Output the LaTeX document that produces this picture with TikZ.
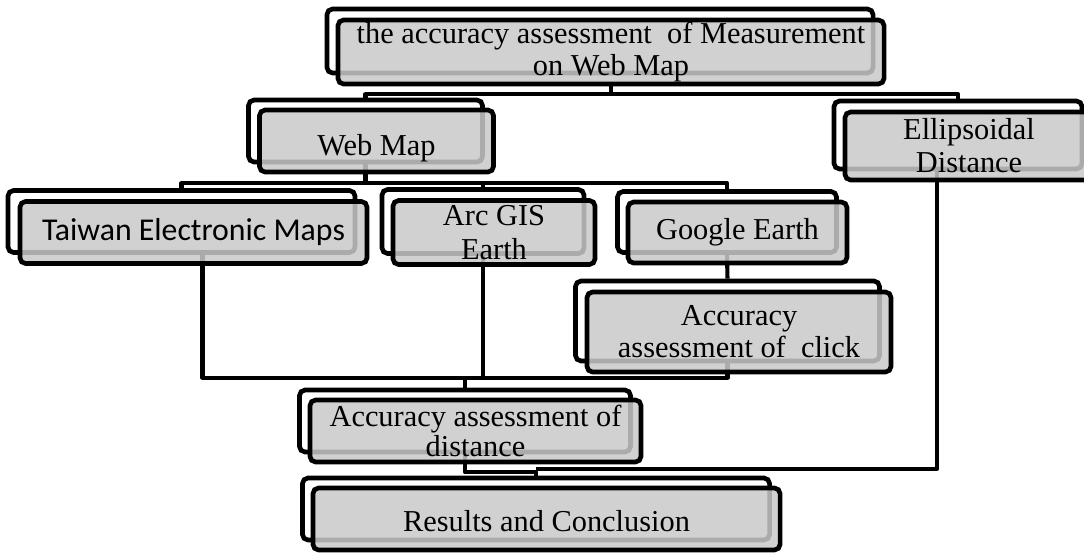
\documentclass[tikz,border=0pt]{standalone}
\usepackage{fontspec}
\setmainfont{Liberation Serif}
\newfontfamily\calibri{Carlito}
\usepackage{tikz}
\usetikzlibrary{positioning, calc}
\definecolor{boxgray}{gray}{0.79}
\pgfdeclarelayer{bg}
\pgfsetlayers{bg,main}
\tikzset{
    backbox/.style={draw, line width=3.3pt, rounded corners=4pt, inner sep=0pt},
    frontbox/.style={draw, line width=3.3pt, rounded corners=4pt, fill=boxgray, fill opacity=0.85, text opacity=1, align=center, inner sep=1pt, font=\fontsize{21.6}{21.6}\selectfont},
    link/.style={line width=2.9pt, line join=round}
}

\begin{document}
\begin{tikzpicture}[x=0.025cm, y=-0.025cm]
    \useasboundingbox (0,0) rectangle (1084,552);
    % Title
    \node[backbox, minimum width=13.65cm, minimum height=1.6cm] (topB) at (600,41) {};
    \node[frontbox, minimum width=13.65cm, minimum height=1.6cm] (top) at (611,52) {the accuracy assessment~ of Measurement\\[1pt]on Web Map};
    % Second level
    \node[backbox, minimum width=5.85cm, minimum height=1.55cm] (webB) at (365.5,131) {};
    \node[frontbox, minimum width=5.85cm, minimum height=1.55cm] (web) at (376.5,141) {\raisebox{-0.17cm}[\height][\depth]{Web Map}};
    \node[backbox, minimum width=6.2cm, minimum height=1.7cm] (ellB) at (958,135) {};
    \node[frontbox, minimum width=6.2cm, minimum height=1.7cm] (ell) at (969,146) {Ellipsoidal\\[2pt]Distance};
    % Web maps
    \node[backbox, minimum width=8.675cm, minimum height=1.55cm] (taiB) at (181.5,221.5) {};
    \node[frontbox, minimum width=8.675cm, minimum height=1.55cm, font=\fontsize{22.6}{22}\selectfont\calibri] (tai) at (193.5,232.5) {Taiwan Electronic Maps};
    \node[backbox, minimum width=5.05cm, minimum height=1.6cm] (arcB) at (483,221.5) {};
    \node[frontbox, minimum width=5.05cm, minimum height=1.6cm] (arc) at (494,232.5) {Arc GIS\\[2pt]Earth};
    \node[backbox, minimum width=5.475cm, minimum height=1.525cm] (gooB) at (727,222) {};
    \node[frontbox, minimum width=5.475cm, minimum height=1.525cm] (goo) at (737.5,232.5) {Google Earth};
    \node[backbox, minimum width=7.6cm, minimum height=2cm] (cliB) at (727.5,321) {};
    \node[frontbox, minimum width=7.6cm, minimum height=2cm] (cli) at (739,332) {Accuracy\\[1pt]assessment of~ click};
    % Assessment and results
    \node[backbox, minimum width=8.275cm, minimum height=1.55cm] (accB) at (465,421) {};
    \node[frontbox, minimum width=8.275cm, minimum height=1.55cm] (acc) at (475.5,431) {Accuracy assessment of\\distance};
    \node[backbox, minimum width=11.675cm, minimum height=1.55cm] (resB) at (536,509) {};
    \node[frontbox, minimum width=11.675cm, minimum height=1.55cm] (res) at (546.5,519) {\raisebox{-0.05cm}[\height][\depth]{Results and Conclusion}};
    % Connectors
    \begin{pgfonlayer}{bg}
        \draw[link] (top.south) -- ++(0,8) coordinate (j1);
        \draw[link] (webB.north) |- (j1) -| (ellB.north);
        \draw[link] (webB.south) -- ++(0,19) coordinate (j2);
        \draw[link] (taiB.north) |- (j2) -| (gooB.north);
        \draw[link] (arcB.north) -- (arcB.north |- j2);
        \draw[link] (gooB.south) -- (cliB.north);
        \coordinate (j3) at ($(accB.north)+(0,-10)$);
        \draw[link] ($(taiB.south)+(21,0)$) |- (j3) -| (cliB.south);
        \draw[link] (arcB.south) -- (arcB.south |- j3);
        \draw[link] (j3) -- (accB.north);
        \draw[link] (accB.south) -- ++(0,18) -| (resB.north);
        \draw[link] ($(ellB.south)+(-21,0)$) |- ($(resB.north)+(0,-7)$);
    \end{pgfonlayer}
\end{tikzpicture}
\end{document}
